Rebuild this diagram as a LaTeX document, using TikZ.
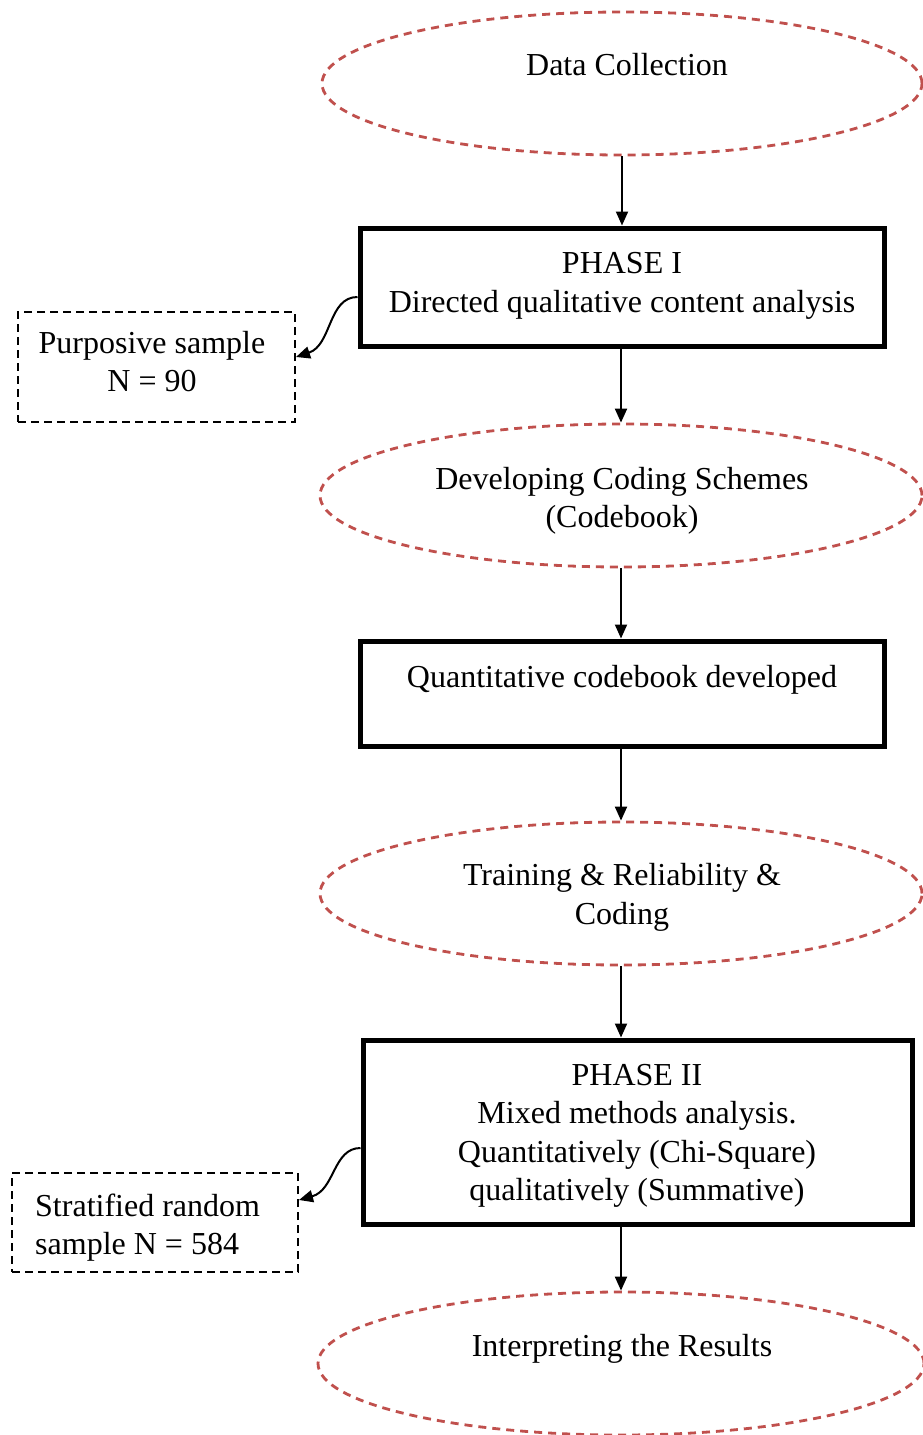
\documentclass[tikz,border=0pt]{standalone}
\usepackage{fontspec}
\setmainfont{Liberation Serif}
\usetikzlibrary{shapes.geometric,arrows.meta}
\definecolor{stageRed}{RGB}{192,80,77}
\tikzset{
  stage/.style={ellipse, draw=stageRed, line width=2.8pt,
    dash pattern=on 8pt off 6pt, inner sep=0pt, minimum width=600pt, minimum height=143pt},
  phasebox/.style={rectangle, draw=black, line width=5pt, inner sep=0pt},
  samplebox/.style={rectangle, draw=black, line width=2pt,
    dash pattern=on 8pt off 5pt, inner sep=0pt},
  txt/.style={inner sep=0pt, align=center, font=\fontsize{32}{38.5}\selectfont},
  flow/.style={line width=2pt, -{Triangle[length=14pt,width=12pt]}},
}
\begin{document}
\begin{tikzpicture}[x=1pt,y=-1pt]
\useasboundingbox (0,0) rectangle (923,1435);
\clip (0,0) rectangle (923,1435);

% stages (dashed ellipses)
\node[stage] (e1) at (622,83.5) {};
\node[stage, minimum width=602pt] (e2) at (621,495.5) {};
\node[stage, minimum width=602pt] (e3) at (621,893.5) {};
\node[stage, minimum width=606pt] (e4) at (621,1363.5) {};

% solid boxes
\node[phasebox, minimum width=524pt, minimum height=118pt] (b1) at (622,287) {};
\node[phasebox, minimum width=524pt, minimum height=105pt] (b2) at (622,693.5) {};
\node[phasebox, minimum width=549pt, minimum height=184pt] (b3) at (637.5,1132) {};

% sample boxes
\node[samplebox, minimum width=277pt, minimum height=110pt] (s1) at (156.5,367) {};
\node[samplebox, minimum width=286pt, minimum height=99pt] (s2) at (155,1222.5) {};

% texts
\node[txt] (t1) at (627,65) {Data Collection};
\node[txt] (t2) at (622,286) {PHASE I\\Directed qualitative content analysis};
\node[txt] (t3) at (152,361.5) {Purposive sample\\N = 90};
\node[txt] (t4) at (622,501) {Developing Coding Schemes\\(Codebook)};
\node[txt] (t5) at (622,679.5) {Quantitative codebook developed};
\node[txt] (t6) at (622,897.5) {Training \& Reliability \&\\Coding};
\node[txt] (t7) at (637,1136) {PHASE II\\Mixed methods analysis.\\Quantitatively (Chi-Square)\\qualitatively (Summative)};
\node[txt, align=left, anchor=west] (t8) at (35,1227.5) {Stratified random\\sample N = 584};
\node[txt] (t9) at (622,1348.5) {Interpreting the Results};

% main flow
\draw[flow] (e1.south) -- (e1.south |- b1.north);
\draw[flow] (e2.north |- b1.south) -- (e2.north);
\draw[flow] (e2.south) -- (e2.south |- b2.north);
\draw[flow] (e3.north |- b2.south) -- (e3.north);
\draw[flow] (e3.south) -- (e3.south |- b3.north);
\draw[flow] (e4.north |- b3.south) -- (e4.north);

% side branches to the samples
\coordinate (c1) at (b1.west |- 0,297);
\coordinate (c2) at (b3.west |- 0,1148);
\draw[flow] (c1) .. controls (328,297) and (332,345) .. (s1.east |- 0,357);
\draw[flow] (c2) .. controls (333,1148) and (335,1190) .. (s2.east |- 0,1200);
\end{tikzpicture}
\end{document}
